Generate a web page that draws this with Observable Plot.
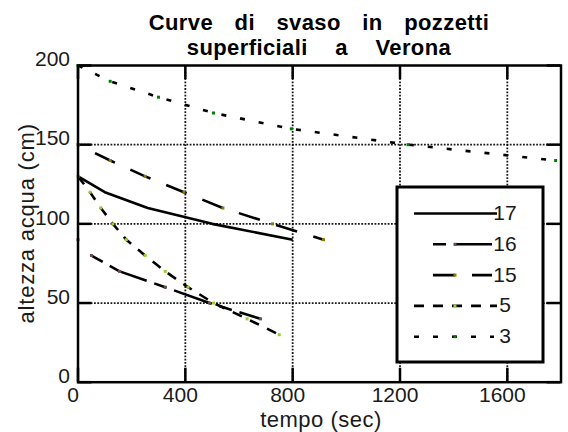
<!DOCTYPE html>
<html>
<head>
<meta charset="utf-8">
<script src="https://cdn.jsdelivr.net/npm/d3@7"></script>
<script src="https://cdn.jsdelivr.net/npm/@observablehq/plot@0.6"></script>
<style>
  html, body { margin: 0; padding: 0; background: #fff; }
  #chart { width: 568px; height: 432px; }
</style>
</head>
<body>
<div id="chart"></div>
<script>
// ---------- data ----------
const seriesNames = ["17", "16", "15", "5", "3"];
const t17 = [0, 100, 260, 500, 800];
const h17 = [130, 120, 110, 100, 90];
const t16 = [0, 50, 155, 325, 490, 680];
const h16 = [90, 80, 70, 60, 50, 40];
const t15 = [0, 120, 250, 395, 540, 725, 915];
const h15 = [150, 140, 130, 120, 110, 100, 90];
const t5 = [0, 45, 85, 130, 180, 250, 325, 410, 505, 630, 750];
const h5 = [130, 120, 110, 100, 90, 80, 70, 60, 50, 40, 30];
const t3 = [0, 120, 300, 505, 795, 1230, 1780];
const h3 = [200, 190, 180, 170, 160, 150, 140];
const xTicks = [0, 400, 800, 1200, 1600];
const yTicks = [0, 50, 100, 150, 200];
const xDomain = [0, 1800];
const yDomain = [0, 200];
const titleLines = ["Curve di svaso in pozzetti", "superficiali a Verona"];
const xLabel = "tempo (sec)";
const yLabel = "altezza acqua (cm)";

// ---------- styles ----------
const seriesStyle = {
  "17": { dash: null, offset: 0, marker: null, lineFrom: 0 },
  "16": { dash: "13,8,40,8", offset: 0, marker: "#6e4e4e", lineFrom: 1 },
  "15": { dash: "22,17", offset: 20, marker: "#8b7b00", lineFrom: 0 },
  "5":  { dash: "10,9", offset: 0, marker: "#9acd32", lineFrom: 0 },
  "3":  { dash: "5,14", offset: 0, marker: "#008000", lineFrom: 0 }
};
const legendStyle = {
  "17": { x1: 414, x2: 497 },
  "16": { x1: 433, x2: 492 },
  "15": { x1: 433, x2: 492 },
  "5":  { x1: 414, x2: 497 },
  "3":  { x1: 414, x2: 494 }
};

const series = [
  { name: "17", t: t17, h: h17 },
  { name: "16", t: t16, h: h16 },
  { name: "15", t: t15, h: h15 },
  { name: "5",  t: t5,  h: h5 },
  { name: "3",  t: t3,  h: h3 }
];

const W = 568, H = 432;
const mL = 77.5, mR = 7.5, mT = 65, mB = 50.3;
const fw = W - mL - mR, fh = H - mT - mB;
const FONT = "'Liberation Sans', Arial, sans-serif";

const innerX = xTicks.filter(d => d > xDomain[0] && d < xDomain[1]);
const innerY = yTicks.filter(d => d > yDomain[0] && d < yDomain[1]);

const lineMarks = series.map(s => {
  const st = seriesStyle[s.name];
  const rows = s.t.map((t, i) => ({ t, h: s.h[i] })).slice(st.lineFrom);
  const opts = { x: "t", y: "h", stroke: "#000", strokeWidth: 2.6, strokeLinecap: "butt", strokeLinejoin: "miter" };
  if (st.dash) { opts.strokeDasharray = st.dash; opts.strokeDashoffset = st.offset; }
  return Plot.line(rows, opts);
});
const dotMarks = series.filter(s => seriesStyle[s.name].marker).map(s => {
  const rows = s.t.map((t, i) => ({ t, h: s.h[i] }));
  return Plot.dot(rows, { x: "t", y: "h", symbol: "square", r: 1.7, fill: seriesStyle[s.name].marker, stroke: null });
});

const tickStyle = { stroke: "#000", strokeWidth: 2.5 };
const gridStyle = { stroke: "#000", strokeOpacity: 0.9, strokeWidth: 1.8, strokeDasharray: "1.8,1.5" };
const chart = Plot.plot({
  width: W, height: H,
  marginLeft: mL, marginRight: mR, marginTop: mT, marginBottom: mB,
  style: { fontFamily: FONT, background: "#fff", color: "#1a1a1a", overflow: "visible" },
  x: { domain: xDomain, label: null },
  y: { domain: yDomain, label: null },
  marks: [
    Plot.gridX(innerX, gridStyle),
    Plot.gridY(innerY, gridStyle),
    Plot.ruleX(xTicks, { x: d => d, insetTop: fh - 14, ...tickStyle }),
    Plot.ruleX(xTicks, { x: d => d, insetBottom: fh - 14, ...tickStyle }),
    Plot.ruleY(yTicks, { y: d => d, insetRight: fw - 14, ...tickStyle }),
    Plot.ruleY(yTicks, { y: d => d, insetLeft: fw - 14, ...tickStyle }),
    ...lineMarks,
    ...dotMarks,
    Plot.frame({ stroke: "#000", strokeWidth: 2.5 }),
    Plot.axisX(xTicks, { anchor: "bottom", tickSize: 0, tickPadding: 5, dx: -5, fontSize: 21, label: null, tickFormat: d => String(d) }),
    Plot.axisY(yTicks, { anchor: "left", tickSize: 0, tickPadding: 8, dy: -6, fontSize: 21, label: null, tickFormat: d => String(d) })
  ]
});
document.getElementById("chart").appendChild(chart);

// ---------- title, axis labels, legend ----------
const svg = d3.select(chart);
const titleBase = [29.5, 55];
const titleWordSpacing = [15, 21];
titleLines.forEach((line, i) => {
  svg.append("text")
    .attr("x", mL + fw / 2).attr("y", titleBase[i])
    .attr("text-anchor", "middle")
    .style("font-family", FONT).style("font-weight", "bold").style("font-size", "22px")
    .style("letter-spacing", "0.4px").style("word-spacing", titleWordSpacing[i] + "px")
    .attr("fill", "#000")
    .text(line);
});
svg.append("text")
  .attr("transform", `translate(33.5,${mT + fh / 2}) rotate(-90)`)
  .attr("text-anchor", "middle")
  .style("font-family", FONT).style("font-size", "22px").style("letter-spacing", "0.8px")
  .attr("fill", "#1a1a1a")
  .text(yLabel);
svg.append("text")
  .attr("x", mL + fw / 2 + 2).attr("y", 427)
  .attr("text-anchor", "middle")
  .style("font-family", FONT).style("font-size", "22px").style("letter-spacing", "0.5px")
  .attr("fill", "#1a1a1a")
  .text(xLabel);

// legend box
const lg = svg.append("g");
lg.append("rect").attr("x", 397).attr("y", 187).attr("width", 146).attr("height", 175)
  .attr("fill", "#fff").attr("stroke", "#000").attr("stroke-width", 3);
seriesNames.forEach((name, i) => {
  const y = 213.5 + i * 30.8;
  const st = seriesStyle[name], ls = legendStyle[name];
  const ln = lg.append("line").attr("x1", ls.x1).attr("x2", ls.x2).attr("y1", y).attr("y2", y)
    .attr("stroke", "#000").attr("stroke-width", 2.6);
  if (st.dash) ln.attr("stroke-dasharray", st.dash);
  if (st.marker) {
    lg.append("rect").attr("x", 453.5).attr("y", y - 1.5).attr("width", 3).attr("height", 3).attr("fill", st.marker);
  }
  lg.append("text").attr("x", 505).attr("y", y - 1).attr("dominant-baseline", "central")
    .style("font-family", FONT).style("font-size", "21px").attr("fill", "#1a1a1a")
    .text(name);
});
</script>
</body>
</html>
